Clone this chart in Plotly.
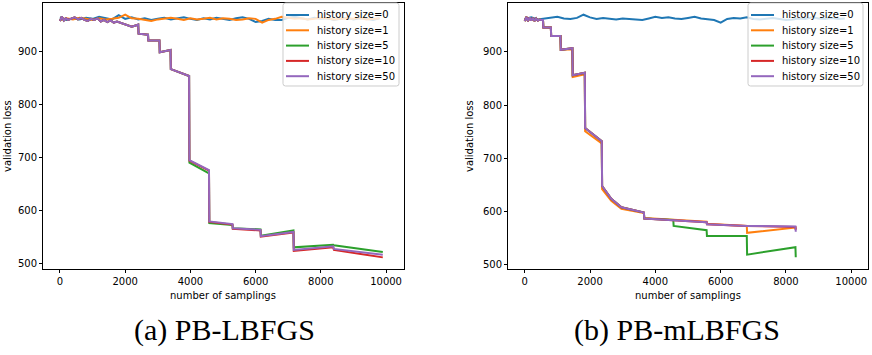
import plotly.graph_objects as go

# ---------------- data: (a) PB-LBFGS ----------------
a_noise_x = [i * 200 for i in range(50)]
a_h0_y = [965, 960, 963, 961, 964, 962, 966, 963, 961, 969, 962, 965, 961, 963, 960, 962, 964, 961, 963, 965,
          962, 960, 963, 961, 964, 962, 960, 963, 965, 962, 956, 958, 962, 960, 960, 964, 966, 963, 961, 964,
          962, 963, 960, 962, 964, 961, 963, 962, 960, 963]
a_h1_y = [960, 963, 961, 964, 962, 960, 963, 961, 962, 964, 970, 963, 962, 960, 958, 961, 963, 964, 962, 960,
          963, 961, 962, 964, 961, 963, 962, 960, 961, 963, 962, 955, 960, 962, 966, 964, 962, 963, 961, 962,
          964, 963, 961, 962, 963, 962, 964, 961, 962, 963]

a_x = [0, 60, 120, 180, 250, 350, 450, 550, 650, 750, 850, 950, 1050, 1150, 1250, 1350, 1450, 1550, 1650, 1750,
       1850, 2200, 2400, 2410, 2700, 2710, 3050, 3060, 3390, 3400, 3960, 3970, 4570, 4580, 5290, 5300, 6150, 6160,
       7160, 7170, 8380, 8400, 9900]
a_h50_y = [958, 966, 959, 963, 960, 962, 965, 961, 964, 960, 958, 962, 960, 963, 957, 960, 956, 959, 955, 957,
           955, 947, 951, 934, 932, 921, 921, 899, 903, 867, 854, 695, 676, 579, 574, 566, 563, 551, 559, 525,
           532, 527, 516]
a_h10_y = [958, 966, 959, 963, 960, 962, 965, 961, 964, 960, 958, 962, 960, 963, 957, 960, 956, 959, 955, 957,
           955, 947, 951, 934, 932, 921, 921, 899, 903, 867, 854, 694, 675, 578, 573, 565, 562, 550, 558, 523,
           530, 525, 511]
a_h5_y = [958, 966, 959, 963, 960, 962, 965, 961, 964, 960, 958, 962, 960, 963, 957, 960, 956, 959, 955, 957,
          955, 947, 951, 934, 932, 921, 921, 899, 903, 867, 854, 690, 670, 576, 572, 566, 564, 552, 562, 530,
          535, 534, 521]

# ---------------- data: (b) PB-mLBFGS ----------------
b_noise_x = [i * 200 for i in range(50)]
b_h0_y = [962, 965, 961, 963, 964, 966, 963, 962, 964, 970, 965, 962, 964, 963, 961, 963, 962, 961, 960, 963,
          966, 964, 965, 963, 962, 964, 966, 963, 962, 960, 955, 962, 964, 963, 965, 962, 961, 963, 964, 962,
          960, 961, 963, 962, 965, 963, 962, 964, 962, 963]

b_x = [0, 50, 100, 150, 200, 250, 300, 350, 400, 450, 500, 560, 570, 800, 810, 1095, 1105, 1460, 1470, 1840,
       1850, 2360, 2370, 2650, 2960, 3650, 3660, 4550, 4560, 5570, 5580, 6800, 6810, 8290, 8300]
b_h50_y = [958, 966, 958, 965, 959, 964, 958, 963, 959, 961, 960, 960, 946, 946, 930, 930, 904, 907, 856, 861,
           757, 732, 648, 624, 608, 598, 587, 584, 584, 580, 576, 573, 573, 572, 562]
b_h10_y = [958, 966, 958, 965, 959, 964, 958, 963, 959, 961, 960, 960, 946, 946, 930, 930, 904, 907, 856, 861,
           757, 732, 648, 624, 608, 598, 587, 584, 584, 580, 576, 573, 573, 571, 566]
b_h5_y = [958, 966, 958, 965, 959, 964, 958, 963, 959, 961, 960, 960, 946, 946, 930, 930, 904, 907, 856, 861,
          757, 732, 648, 624, 608, 598, 587, 584, 573, 565, 554, 554, 519, 533, 514]
b_h1_y = [958, 966, 958, 965, 959, 964, 958, 963, 959, 961, 960, 960, 946, 946, 930, 930, 904, 905, 853, 858,
          751, 728, 642, 620, 605, 597, 588, 585, 585, 581, 577, 573, 560, 570, 566]

series_names = ["history size=0", "history size=1", "history size=5", "history size=10", "history size=50"]
colors = ["#1f77b4", "#ff7f0e", "#2ca02c", "#d62728", "#9467bd"]

x_ticks = [0, 2000, 4000, 6000, 8000, 10000]
y_ticks = [500, 600, 700, 800, 900]
panel_titles = ["(a) PB-LBFGS", "(b) PB-mLBFGS"]
x_title = "number of samplings"
y_title = "validation loss"

W, H = 872, 355
fig = go.Figure()

left_series = [(a_noise_x, a_h0_y), (a_noise_x, a_h1_y), (a_x, a_h5_y), (a_x, a_h10_y), (a_x, a_h50_y)]
right_series = [(b_noise_x, b_h0_y), (b_x, b_h1_y), (b_x, b_h5_y), (b_x, b_h10_y), (b_x, b_h50_y)]

for (xs, ys), name, c in zip(left_series, series_names, colors):
    fig.add_trace(go.Scatter(x=xs, y=ys, mode="lines", name=name, line=dict(color=c, width=2),
                             xaxis="x", yaxis="y", showlegend=False))
for (xs, ys), name, c in zip(right_series, series_names, colors):
    fig.add_trace(go.Scatter(x=xs, y=ys, mode="lines", name=name, line=dict(color=c, width=2),
                             xaxis="x2", yaxis="y2", showlegend=False))


def px_x(p):
    return p / W


def px_y(p):
    return 1 - p / H


tickfont = dict(family="DejaVu Sans", size=10, color="black")
axis_common = dict(showline=True, mirror=True, linecolor="black", linewidth=1, ticks="outside",
                   ticklen=3, tickcolor="black", tickwidth=1, showgrid=False, zeroline=False,
                   tickfont=tickfont)
x_ticktext = [str(v) for v in x_ticks]
y_ticktext = [str(v) for v in y_ticks]

fig.update_layout(
    width=W, height=H,
    margin=dict(l=0, r=0, t=0, b=0),
    paper_bgcolor="white", plot_bgcolor="white",
    xaxis=dict(domain=[px_x(43), px_x(404)], range=[-520, 10550], tickvals=x_ticks, ticktext=x_ticktext,
               anchor="y", **axis_common),
    yaxis=dict(domain=[px_y(269), px_y(3)], range=[489, 992], tickvals=y_ticks, ticktext=y_ticktext,
               anchor="x", **axis_common),
    xaxis2=dict(domain=[px_x(508), px_x(868)], range=[-512, 10512], tickvals=x_ticks, ticktext=x_ticktext,
                anchor="y2", **axis_common),
    yaxis2=dict(domain=[px_y(269), px_y(3)], range=[492, 992], tickvals=y_ticks, ticktext=y_ticktext,
                anchor="x2", **axis_common),
    showlegend=False,
)

# ---- hand-drawn legends (matplotlib style) ----
shapes = []
annotations = []
leg_font = dict(family="DejaVu Sans", size=10, color="black")


def rounded_rect(x0, y0, x1, y1, r=2.5):
    # pixel coords -> paper path
    def P(x, y):
        return f"{px_x(x):.5f},{px_y(y):.5f}"
    return (f"M {P(x0 + r, y0)} L {P(x1 - r, y0)} Q {P(x1, y0)} {P(x1, y0 + r)} "
            f"L {P(x1, y1 - r)} Q {P(x1, y1)} {P(x1 - r, y1)} L {P(x0 + r, y1)} "
            f"Q {P(x0, y1)} {P(x0, y1 - r)} L {P(x0, y0 + r)} Q {P(x0, y0)} {P(x0 + r, y0)} Z")


for bx0, bx1 in [(283, 399), (748, 863)]:
    shapes.append(dict(type="path", xref="paper", yref="paper", path=rounded_rect(bx0, 3, bx1, 86),
                       fillcolor="rgba(255,255,255,0.8)", line=dict(color="#cccccc", width=1), layer="above"))
    for i, (name, c) in enumerate(zip(series_names, colors)):
        ry = 15 + i * 15.3
        shapes.append(dict(type="line", xref="paper", yref="paper", x0=px_x(bx0 + 3), x1=px_x(bx0 + 26),
                           y0=px_y(ry), y1=px_y(ry), line=dict(color=c, width=2), layer="above"))
        annotations.append(dict(text=name, x=px_x(bx0 + 32), y=px_y(ry), xanchor="left", yanchor="middle",
                                font=leg_font))

label_font = dict(family="DejaVu Sans", size=10, color="black")
cap_font = dict(family="Liberation Serif", size=30, color="black")
annotations += [
    dict(text=y_title, x=px_x(8), y=px_y(136), textangle=-90, font=label_font),
    dict(text=y_title, x=px_x(470), y=px_y(136), textangle=-90, font=label_font),
    dict(text=x_title, x=px_x(223), y=px_y(295), font=label_font),
    dict(text=x_title, x=px_x(688), y=px_y(295), font=label_font),
    dict(text=panel_titles[0], x=px_x(224), y=px_y(330), font=cap_font),
    dict(text=panel_titles[1], x=px_x(677), y=px_y(330), font=cap_font),
]
for a in annotations:
    a.update(xref="paper", yref="paper", showarrow=False)
    a.setdefault("xanchor", "center")
    a.setdefault("yanchor", "middle")
fig.update_layout(annotations=annotations, shapes=shapes)

fig.write_html("out.html", config={"displayModeBar": False},
               post_script="document.body.style.margin='0';document.body.style.padding='0';")
